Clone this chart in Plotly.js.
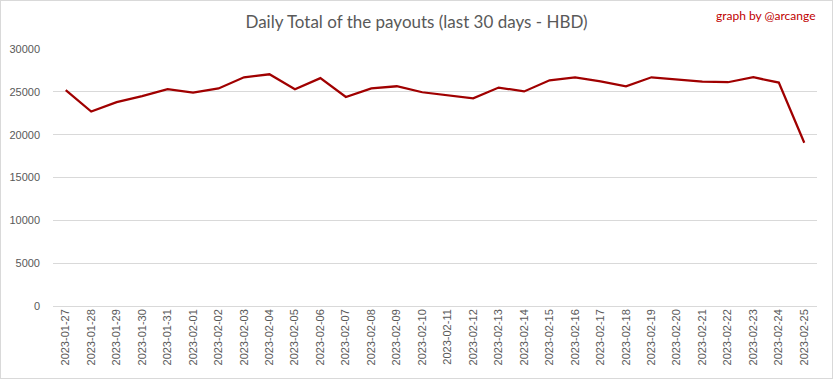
<!DOCTYPE html>
<html>
<head>
<meta charset="utf-8">
<script src="https://cdn.plot.ly/plotly-3.0.1.min.js"></script>
<style>
html,body{margin:0;padding:0;background:#fff;}
#wrap{position:relative;width:833px;height:379px;}
#chart{width:833px;height:379px;}
#frame{position:absolute;left:0;top:0;width:831px;height:377px;border:1px solid #d9d9d9;pointer-events:none;}
</style>
</head>
<body>
<div id="wrap"><div id="chart"></div><div id="frame"></div></div>
<script>
const dates = ["2023-01-27","2023-01-28","2023-01-29","2023-01-30","2023-01-31","2023-02-01","2023-02-02","2023-02-03","2023-02-04","2023-02-05","2023-02-06","2023-02-07","2023-02-08","2023-02-09","2023-02-10","2023-02-11","2023-02-12","2023-02-13","2023-02-14","2023-02-15","2023-02-16","2023-02-17","2023-02-18","2023-02-19","2023-02-20","2023-02-21","2023-02-22","2023-02-23","2023-02-24","2023-02-25"];
const payouts = [25200,22700,23800,24500,25300,24900,25400,26700,27050,25300,26600,24400,25400,25650,24950,24600,24250,25500,25050,26350,26700,26230,25650,26700,26470,26200,26120,26700,26080,19050];
const yTicks = [0,5000,10000,15000,20000,25000,30000];

const trace = {
  x: dates, y: payouts, type: 'scatter', mode: 'lines',
  line: {color: '#a00000', width: 2.25},
  hoverinfo: 'x+y'
};
const layout = {
  width: 833, height: 379,
  margin: {l: 53, r: 16, t: 49, b: 73},
  paper_bgcolor: '#fff', plot_bgcolor: '#fff',
  showlegend: false,
  title: {text: 'Daily Total of the payouts (last 30 days - HBD)', x: 0.5, xanchor: 'center', y: 0.942, yanchor: 'middle',
          font: {family: 'Lato, "Open Sans", sans-serif', size: 17, color: '#595959'}},
  xaxis: {type: 'category', range: [-0.5, dates.length - 0.5], tickangle: -90,
          tickfont: {family: '"Liberation Sans", Arial, sans-serif', size: 11, color: '#595959'},
          showgrid: false, showline: false, zeroline: false, ticks: '', fixedrange: true},
  yaxis: {range: [0, 30000], tickvals: yTicks, ticktext: yTicks.map(String),
          tickfont: {family: '"Liberation Sans", Arial, sans-serif', size: 11, color: '#595959'},
          gridcolor: '#d9d9d9', gridwidth: 1, zeroline: true, zerolinecolor: '#d9d9d9', zerolinewidth: 1,
          showline: false, ticks: '', ticklabelstandoff: 12, fixedrange: true},
  annotations: [{text: 'graph by @arcange', xref: 'paper', yref: 'paper', x: 1.001, y: 1.132,
                 xanchor: 'right', yanchor: 'middle', showarrow: false,
                 font: {family: 'Lato, "Open Sans", sans-serif', size: 12, color: '#c00000'}}]
};
Plotly.newPlot('chart', [trace], layout, {displayModeBar: false, staticPlot: true});
</script>
</body>
</html>
